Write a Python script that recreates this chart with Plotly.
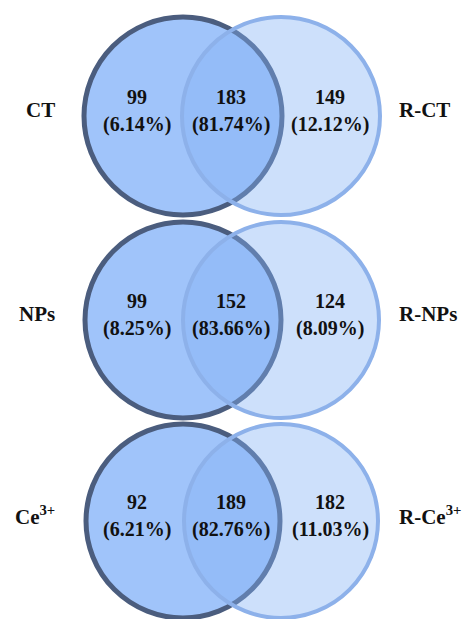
import plotly.graph_objects as go

# ---- data ----
left_labels = ["CT", "NPs", "Ce<sup>3+</sup>"]
right_labels = ["R-CT", "R-NPs", "R-Ce<sup>3+</sup>"]
left_counts = [99, 99, 92]
left_pct = [6.14, 8.25, 6.21]
shared_counts = [183, 152, 189]
shared_pct = [81.74, 83.66, 82.76]
right_counts = [149, 124, 182]
right_pct = [12.12, 8.09, 11.03]

# ---- layout constants (pixel space) ----
W, H = 469, 619
row_cy = [116, 320, 521]
row_r = [99, 98, 97]
left_cx, right_cx = 183, 281
x_left_txt, x_mid_txt, x_right_txt = 137, 231, 330

FONT = "Liberation Serif, Times New Roman, serif"
TXT = "#111111"

fig = go.Figure()
fig.add_trace(go.Scatter(x=[0, W], y=[0, H], mode="markers",
                         marker=dict(opacity=0), hoverinfo="skip", showlegend=False))

shapes = []
annotations = []


def ann(x, y, text, size=20, xanchor="center"):
    annotations.append(dict(x=x, y=y, xref="x", yref="y", text="<b>%s</b>" % text,
                            showarrow=False, xanchor=xanchor, yanchor="middle",
                            font=dict(family=FONT, size=size, color=TXT)))


for i in range(len(left_labels)):
    cy, r = row_cy[i], row_r[i]
    # left circle (opaque)
    shapes.append(dict(type="circle", xref="x", yref="y",
                       x0=left_cx - r, x1=left_cx + r, y0=cy - r, y1=cy + r,
                       fillcolor="rgb(160,196,250)",
                       line=dict(color="rgb(75,93,126)", width=5)))
    # right circle (semi-transparent fill on top)
    shapes.append(dict(type="circle", xref="x", yref="y",
                       x0=right_cx - r, x1=right_cx + r, y0=cy - r, y1=cy + r,
                       fillcolor="rgba(130,177,245,0.4)",
                       line=dict(color="rgb(141,177,234)", width=4)))
    ann(x_left_txt, cy - 19, str(left_counts[i]))
    ann(x_left_txt, cy + 8, "(%.2f%%)" % left_pct[i])
    ann(x_mid_txt, cy - 19, str(shared_counts[i]))
    ann(x_mid_txt, cy + 8, "(%.2f%%)" % shared_pct[i])
    ann(x_right_txt, cy - 19, str(right_counts[i]))
    ann(x_right_txt, cy + 8, "(%.2f%%)" % right_pct[i])
    ann(57, cy - 6, left_labels[i], size=21, xanchor="right")
    ann(397, cy - 6, right_labels[i], size=21, xanchor="left")

fig.update_layout(
    width=W, height=H,
    margin=dict(l=0, r=0, t=0, b=0),
    paper_bgcolor="white", plot_bgcolor="white",
    xaxis=dict(range=[0, W], visible=False, fixedrange=True),
    yaxis=dict(range=[H, 0], visible=False, fixedrange=True),
    shapes=shapes, annotations=annotations,
    showlegend=False,
)

fig.write_html("out.html",
               config={"displayModeBar": False},
               post_script="document.body.style.margin='0';document.body.style.overflow='hidden';")
